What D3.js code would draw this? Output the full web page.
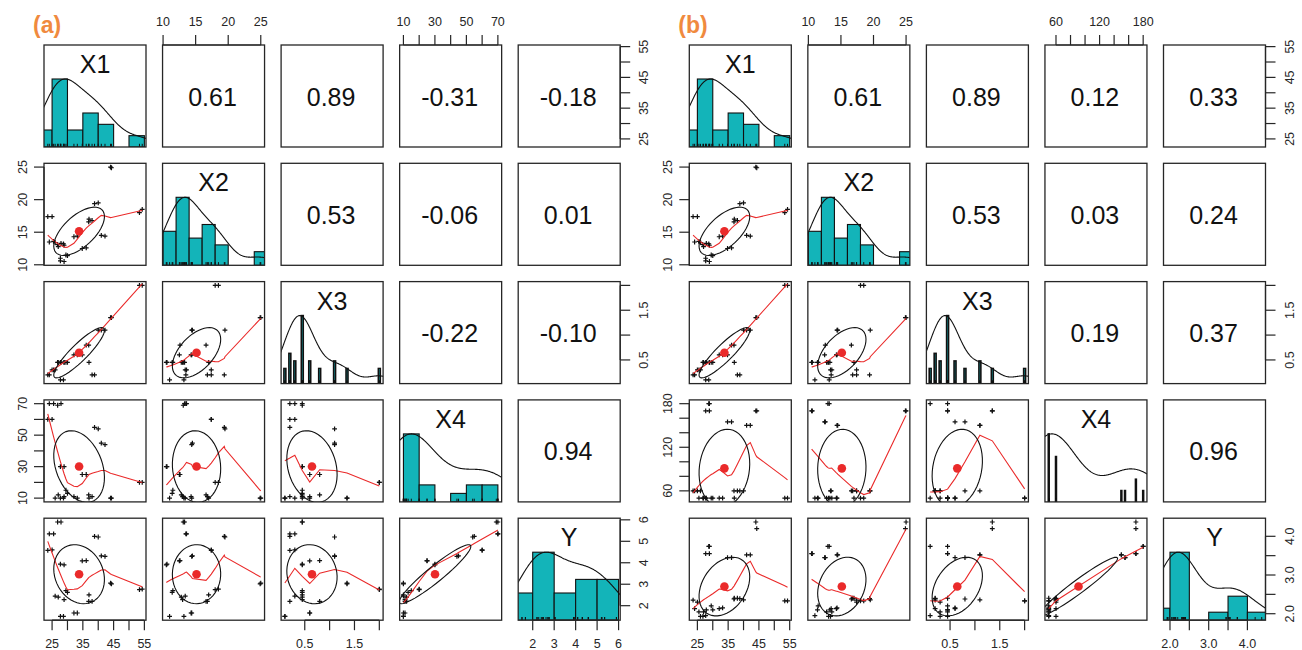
<!DOCTYPE html>
<html><head><meta charset="utf-8">
<script src="https://cdn.jsdelivr.net/npm/d3@7"></script>
<style>
body{margin:0;background:#fff}
svg{display:block}
text{font-family:"Liberation Sans",Arial,Helvetica,sans-serif}
</style>
</head><body>
<svg id="chart" width="1302" height="650"></svg>
<script>
const varNames = ["X1", "X2", "X3", "X4", "Y"];
const X1  = [24.1,25.5,26.8,27.9,23.6,25.0,38.8,40.0,41.0,42.2,27.7,28.9,34.8,36.1,53.4,54.3,29.5,30.0,44.0,44.3,32.1,33.2,36.9,38.0,27.7,28.7,28.9,26.0,27.0,37.0];
const X2  = [13.5,13.6,13.1,13.3,17.4,17.4,19.4,19.5,14.5,14.4,10.6,10.5,12.5,12.6,18.0,18.5,11.5,11.4,25.0,24.9,14.3,14.4,16.6,16.8,11.0,13.2,13.0,13.4,12.8,17.0];
const X3  = [0.2,0.3,0.45,0.45,0.2,0.3,0.2,1.1,1.1,1.1,0.45,0.45,0.6,0.8,2.0,2.0,0.45,0.45,1.35,1.35,0.6,0.6,0.8,0.2,0.1,0.1,0.45,0.3,0.45,0.45];
const X4a = [70,70,69,70,60,60,55,54,45,44,30,30,25,25,20,20,15,13,10,10,11,10,12,11,10,10,11,10,12,10];
const Ya  = [5.35,5.35,5.9,5.9,4.58,4.6,5.23,5.2,4.32,4.3,3.94,3.9,4.09,4.1,2.75,2.77,2.7,2.62,3.05,3.02,1.66,1.66,2.2,2.2,1.5,1.5,2.28,2.45,2.4,2.5];
const X4b = [60,50,50,50,60,60,60,60,150,150,170,170,155,155,50,50,50,50,170,170,50,50,60,60,50,180,180,60,50,50];
const Yb  = [2.13,2.05,1.93,2.1,2.35,2.3,2.39,2.36,3.52,3.52,3.55,3.55,3.45,3.45,2.33,2.33,2.2,2.1,4.37,4.2,2.13,2.15,2.38,2.4,1.95,3.74,3.74,1.93,2.05,2.4];

// correlation labels (upper triangle, row by row)
const corLabelsA = ["0.61","0.89","-0.31","-0.18","0.53","-0.06","0.01","-0.22","-0.10","0.94"];
const corLabelsB = ["0.61","0.89","0.12","0.33","0.53","0.03","0.24","0.19","0.37","0.96"];

// histogram breaks (null = one bar per distinct value)
const breaksX1  = [20,25,30,35,40,45,50,55];
const breaksX2  = [10,12,14,16,18,20,22,24,26];
const breaksX3  = null;
const breaksX4a = [10,20,30,40,50,60,70];
const breaksYa  = [1,2,3,4,5,6];
const breaksX4b = null;
const breaksYb  = [1.5,2,2.5,3,3.5,4,4.5];

// axis ticks and tick labels
const ticksX1 = [25,30,35,40,45,50,55],          labelsX1 = ["25","","35","","45","","55"];
const ticksX2 = [10,15,20,25],                   labelsX2 = ["10","15","20","25"];
const ticksX3 = [0.5,1.0,1.5,2.0],               labelsX3 = ["0.5","","1.5",""];
const ticksX4a = [10,20,30,40,50,60,70],         labelsX4a = ["10","","30","","50","","70"];
const ticksYa = [2,3,4,5,6],                     labelsYa = ["2","3","4","5","6"];
const ticksX4b = [60,80,100,120,140,160,180],    labelsX4b = ["60","","","120","","","180"];
const ticksYb = [2.0,2.5,3.0,3.5,4.0],           labelsYb = ["2.0","","3.0","","4.0"];

const panelTags = ["(a)", "(b)"];

// ---------------- helpers ----------------
function lowest(x, y, xs, nleft, nright, rw, userw) {
  const n = x.length, range = x[n-1] - x[0];
  const h = Math.max(xs - x[nleft], x[nright] - xs);
  const h9 = 0.999*h, h1 = 0.001*h;
  const w = new Array(n).fill(0);
  let a = 0, j = nleft;
  while (j < n) {
    w[j] = 0;
    const r = Math.abs(x[j] - xs);
    if (r <= h9) {
      w[j] = r <= h1 ? 1 : Math.pow(1 - Math.pow(r/h, 3), 3);
      if (userw) w[j] *= rw[j];
      a += w[j];
    } else if (x[j] > xs) break;
    j++;
  }
  const nrt = j - 1;
  if (a <= 0) return null;
  for (j = nleft; j <= nrt; j++) w[j] /= a;
  if (h > 0) {
    a = 0;
    for (j = nleft; j <= nrt; j++) a += w[j]*x[j];
    let b = xs - a, c = 0;
    for (j = nleft; j <= nrt; j++) c += w[j]*(x[j]-a)*(x[j]-a);
    if (Math.sqrt(c) > 0.001*range) {
      b /= c;
      for (j = nleft; j <= nrt; j++) w[j] *= (b*(x[j]-a) + 1);
    }
  }
  let ys = 0;
  for (j = nleft; j <= nrt; j++) ys += w[j]*y[j];
  return ys;
}
function lowess(xIn, yIn, f = 2/3, nsteps = 3) {
  const n = xIn.length;
  const o = d3.range(n).sort((p, q) => xIn[p] - xIn[q]);
  const x = o.map(i => xIn[i]), y = o.map(i => yIn[i]);
  const delta = 0.01*(x[n-1] - x[0]);
  const ys = new Array(n).fill(0), rw = new Array(n).fill(1), res = new Array(n).fill(0);
  const ns = Math.max(2, Math.min(n, Math.floor(f*n + 1e-7)));
  for (let iter = 1; iter <= nsteps + 1; iter++) {
    let nleft = 0, nright = ns - 1, last = -1, i = 0;
    for (;;) {
      if (nright < n - 1) {
        const d1 = x[i] - x[nleft], d2 = x[nright+1] - x[i];
        if (d1 > d2) { nleft++; nright++; continue; }
      }
      const fit = lowest(x, y, x[i], nleft, nright, rw, iter > 1);
      ys[i] = fit === null ? y[i] : fit;
      if (last < i - 1) {
        const denom = x[i] - x[last];
        for (let j = last + 1; j < i; j++) {
          const alpha = (x[j] - x[last])/denom;
          ys[j] = alpha*ys[i] + (1 - alpha)*ys[last];
        }
      }
      last = i;
      const cut = x[last] + delta;
      for (i = last + 1; i < n; i++) {
        if (x[i] > cut) break;
        if (x[i] === x[last]) { ys[i] = ys[last]; last = i; }
      }
      i = Math.max(last + 1, i - 1);
      if (last >= n - 1) break;
    }
    for (let k = 0; k < n; k++) res[k] = y[k] - ys[k];
    const sc = d3.sum(res, Math.abs)/n;
    if (iter > nsteps) break;
    const sorted = res.map(Math.abs).sort((p, q) => p - q);
    const m1 = Math.floor(n/2);
    const cmad = n % 2 === 0 ? 3*(sorted[m1] + sorted[n-m1-1]) : 6*sorted[m1];
    if (cmad < 1e-7*sc) break;
    const c9 = 0.999*cmad, c1 = 0.001*cmad;
    for (let k = 0; k < n; k++) {
      const r = Math.abs(res[k]);
      rw[k] = r <= c1 ? 1 : (r <= c9 ? Math.pow(1 - Math.pow(r/cmad, 2), 2) : 0);
    }
  }
  return x.map((v, k) => [v, ys[k]]);
}
function density(data, adjust = 1.2) {
  const s = data.slice().sort(d3.ascending);
  const q1 = d3.quantileSorted(s, 0.25), q3 = d3.quantileSorted(s, 0.75);
  const bw = 1.06*Math.min(d3.deviation(s), (q3 - q1)/1.34)*Math.pow(s.length, -0.2)*adjust;
  const lo = s[0] - 3*bw, hi = s[s.length-1] + 3*bw, m = 400;
  const pts = d3.range(m).map(k => {
    const g = lo + (hi - lo)*k/(m - 1);
    return [g, d3.sum(s, v => Math.exp(-0.5*((g - v)/bw)**2))];
  });
  const mx = d3.max(pts, p => p[1]);
  return pts.map(p => [p[0], p[1]/mx]);
}
function rightClosedCounts(data, br) {
  const c = new Array(br.length - 1).fill(0);
  data.forEach(v => {
    for (let k = 0; k < br.length - 1; k++) {
      if ((v > br[k] || (k === 0 && v >= br[0])) && v <= br[k+1]) { c[k]++; break; }
    }
  });
  return c;
}

// ---------------- layout ----------------
const W = 1302, H = 650;
const CELL = 102, SX = 118.55, SY = 118.3, X0 = 44, Y0 = 45, PANEL_DX = 645.3;
const INK = "#262626", HIST = "#13b4b9", RED = "#ea2a2a", TAG = "#f08a3e";

const svg = d3.select("#chart");
svg.append("rect").attr("width", W).attr("height", H).attr("fill", "#fff");
const defs = svg.append("defs");

function drawPanel(pid, ox, vars, cors, tag) {
  const g = svg.append("g");
  const nv = vars.length;
  const dom = vars.map(v => { const e = d3.extent(v.data), p = 0.04*(e[1] - e[0]); return [e[0] - p, e[1] + p]; });
  const cx = j => ox + X0 + j*SX, cy = i => Y0 + i*SY;
  const xs = vars.map((v, j) => d3.scaleLinear().domain(dom[j]).range([cx(j), cx(j) + CELL]));
  const ysc = vars.map((v, i) => d3.scaleLinear().domain(dom[i]).range([cy(i) + CELL, cy(i)]));
  const corIndex = (a, b) => { let k = 0; for (let p = 0; p < nv; p++) for (let q = p + 1; q < nv; q++) { if (p === a && q === b) return k; k++; } };

  for (let i = 0; i < nv; i++) for (let j = 0; j < nv; j++) {
    const x0 = cx(j), y0 = cy(i);
    const clipId = `clip-${pid}-${i}-${j}`;
    defs.append("clipPath").attr("id", clipId).append("rect")
      .attr("x", x0).attr("y", y0).attr("width", CELL).attr("height", CELL);
    const cg = g.append("g").attr("clip-path", `url(#${clipId})`);

    if (i === j) {
      const v = vars[i], xsc = xs[j];
      const hy = d3.scaleLinear().domain([0, 1.5]).range([y0 + CELL, y0]);
      let bars, narrow = false;
      if (v.breaks) {
        const c = rightClosedCounts(v.data, v.breaks), mx = d3.max(c);
        bars = c.map((n, k) => ({ a: v.breaks[k], b: v.breaks[k+1], h: n/mx }));
      } else {
        narrow = true;
        const tab = d3.rollups(v.data, a => a.length, d => d).sort((p, q) => p[0] - q[0]);
        const vals = tab.map(t => t[0]), mx = d3.max(tab, t => t[1]);
        const md = d3.min(d3.pairs(vals), p => p[1] - p[0]);
        const ib = md*(vals.length - 1)/41;
        bars = tab.map(t => ({ a: t[0] - ib, b: t[0] + ib, h: t[1]/mx }));
      }
      cg.selectAll(null).data(bars.filter(d => d.h > 0)).join("rect")
        .attr("x", d => xsc(d.a)).attr("width", d => Math.max(0.5, xsc(d.b) - xsc(d.a)))
        .attr("y", d => hy(d.h)).attr("height", d => hy(0) - hy(d.h))
        .attr("fill", HIST).attr("stroke", "#111").attr("stroke-width", narrow ? 1.6 : 1.1);
      cg.append("path").datum(density(v.data))
        .attr("d", d3.line().x(p => xsc(p[0])).y(p => hy(p[1])))
        .attr("fill", "none").attr("stroke", "#111").attr("stroke-width", 1.1);
      cg.selectAll(null).data(v.data).join("line")
        .attr("x1", d => xsc(d)).attr("x2", d => xsc(d))
        .attr("y1", y0 + CELL).attr("y2", y0 + CELL - 3.2)
        .attr("stroke", "#111").attr("stroke-width", 1);
      g.append("text").attr("x", x0 + CELL/2).attr("y", y0 + 28)
        .attr("text-anchor", "middle").attr("font-size", 25).attr("fill", "#111").text(v.name);
    } else if (i < j) {
      g.append("text").attr("x", x0 + CELL/2 - 1).attr("y", y0 + CELL/2 + 9.5)
        .attr("text-anchor", "middle").attr("font-size", 25).attr("fill", "#111")
        .text(cors[corIndex(i, j)]);
    } else {
      const xd = vars[j].data, yd = vars[i].data, xsc = xs[j], ysc2 = ysc[i];
      cg.selectAll(null).data(d3.range(xd.length)).join("path")
        .attr("d", k => `M${xsc(xd[k]) - 2.4},${ysc2(yd[k])}h4.8M${xsc(xd[k])},${ysc2(yd[k]) - 2.4}v4.8`)
        .attr("stroke", "#111").attr("stroke-width", 1.2).attr("fill", "none");
      cg.append("path").datum(lowess(xd, yd))
        .attr("d", d3.line().x(p => xsc(p[0])).y(p => ysc2(p[1])))
        .attr("fill", "none").attr("stroke", RED).attr("stroke-width", 1.1);
      const mx = d3.mean(xd), my = d3.mean(yd), sx = d3.deviation(xd), sy = d3.deviation(yd);
      const r = +cors[corIndex(j, i)];
      const th = (r === 0 ? 1 : Math.sign(r))/Math.SQRT2;
      const a1 = Math.sqrt(1 + r)*th, a2 = Math.sqrt(1 - r)*th;
      const ell = d3.range(52).map(k => {
        const ang = k*2*Math.PI/51, c = Math.cos(ang), s = Math.sin(ang);
        return [mx + sx*(c*a1 - s*a2), my + sy*(c*a1 + s*a2)];
      });
      cg.append("circle").attr("cx", xsc(mx)).attr("cy", ysc2(my)).attr("r", 4.3).attr("fill", RED);
      cg.append("path").datum(ell)
        .attr("d", d3.line().x(p => xsc(p[0])).y(p => ysc2(p[1])))
        .attr("fill", "none").attr("stroke", "#111").attr("stroke-width", 1.1);
    }
    g.append("rect").attr("x", x0).attr("y", y0).attr("width", CELL).attr("height", CELL)
      .attr("fill", "none").attr("stroke", INK).attr("stroke-width", 1.3);
  }

  // axes
  const TL = 10;
  const ax = g.append("g").attr("fill", INK);
  function hAxis(j, side) {
    const v = vars[j], s = xs[j];
    const yb = side === "top" ? cy(0) : cy(nv - 1) + CELL;
    const dir = side === "top" ? -1 : 1;
    ax.append("line").attr("x1", s(v.ticks[0])).attr("x2", s(v.ticks[v.ticks.length-1]))
      .attr("y1", yb).attr("y2", yb).attr("stroke", INK).attr("stroke-width", 1.2);
    v.ticks.forEach((t, k) => {
      ax.append("line").attr("x1", s(t)).attr("x2", s(t)).attr("y1", yb).attr("y2", yb + dir*TL)
        .attr("stroke", INK).attr("stroke-width", 1.2);
      if (v.labels[k]) ax.append("text").attr("x", s(t)).attr("y", side === "top" ? yb - 19.5 : yb + 27.5)
        .attr("text-anchor", "middle").attr("font-size", 12.5).text(v.labels[k]);
    });
  }
  function vAxis(i, side) {
    const v = vars[i], s = ysc[i];
    const xb = side === "left" ? cx(0) : cx(nv - 1) + CELL;
    const dir = side === "left" ? -1 : 1;
    ax.append("line").attr("y1", s(v.ticks[0])).attr("y2", s(v.ticks[v.ticks.length-1]))
      .attr("x1", xb).attr("x2", xb).attr("stroke", INK).attr("stroke-width", 1.2);
    v.ticks.forEach((t, k) => {
      ax.append("line").attr("y1", s(t)).attr("y2", s(t)).attr("x1", xb).attr("x2", xb + dir*TL)
        .attr("stroke", INK).attr("stroke-width", 1.2);
      if (v.labels[k]) {
        const tx = side === "left" ? xb - 17.5 : xb + 28;
        ax.append("text").attr("transform", `translate(${tx},${s(t)}) rotate(-90)`)
          .attr("text-anchor", "middle").attr("font-size", 12.5).text(v.labels[k]);
      }
    });
  }
  for (let j = 0; j < nv; j++) { if (j % 2 === 1) hAxis(j, "top"); else hAxis(j, "bottom"); }
  for (let i = 0; i < nv; i++) { if (i % 2 === 1) vAxis(i, "left"); else vAxis(i, "right"); }

  svg.append("text").attr("x", ox + 33).attr("y", 33)
    .attr("font-family", "'DejaVu Sans', 'Open Sans', sans-serif").attr("font-weight", 700)
    .attr("font-size", 23).attr("fill", TAG).text(tag);
}

const common = [
  { name: varNames[0], data: X1, breaks: breaksX1, ticks: ticksX1, labels: labelsX1 },
  { name: varNames[1], data: X2, breaks: breaksX2, ticks: ticksX2, labels: labelsX2 },
  { name: varNames[2], data: X3, breaks: breaksX3, ticks: ticksX3, labels: labelsX3 }
];
const varsA = common.concat([
  { name: varNames[3], data: X4a, breaks: breaksX4a, ticks: ticksX4a, labels: labelsX4a },
  { name: varNames[4], data: Ya, breaks: breaksYa, ticks: ticksYa, labels: labelsYa }
]);
const varsB = common.concat([
  { name: varNames[3], data: X4b, breaks: breaksX4b, ticks: ticksX4b, labels: labelsX4b },
  { name: varNames[4], data: Yb, breaks: breaksYb, ticks: ticksYb, labels: labelsYb }
]);
drawPanel("a", 0, varsA, corLabelsA, panelTags[0]);
drawPanel("b", PANEL_DX, varsB, corLabelsB, panelTags[1]);
</script>
</body></html>
